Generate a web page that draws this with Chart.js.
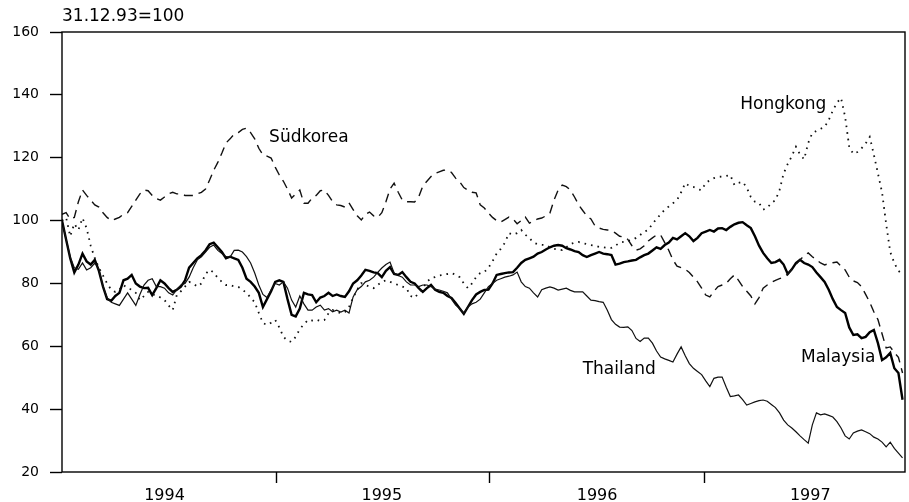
<!DOCTYPE html>
<html><head><meta charset="utf-8">
<script src="https://cdn.jsdelivr.net/npm/chart.js@4/dist/chart.umd.min.js"></script>
<style>html,body{margin:0;padding:0;background:#fff}#wrap{width:909px;height:502px}</style>
</head><body><div id="wrap"><canvas id="c" width="909" height="502"></canvas></div>
<script>
// Weekly index values, 31.12.93 = 100 (week 0 = 31.12.1993)
const malaysia = [
 100, 94, 88, 83.5, 86, 89.5, 87, 86, 87.5, 84,
 79, 75, 74.5, 76, 77, 81, 81.5, 82.7, 80, 79,
 78.5, 78.6, 76.3, 78.5, 81, 80, 78.5, 77.3, 78, 79,
 81, 85, 86.5, 88, 89, 90.5, 92.5, 93, 91.5, 90,
 88, 88.5, 88, 87.5, 85, 81.5, 80.5, 79, 77, 72.5,
 75, 77.5, 80.5, 81, 80.5, 75, 70, 69.5, 72, 77,
 76.5, 76.3, 74, 75.5, 76, 77, 76, 76.5, 76, 75.7,
 77.5, 80, 81, 82.5, 84.3, 84, 83.5, 83.3, 82, 84,
 85.2, 83, 82.7, 83.6, 82, 80.5, 80, 78.5, 77.3, 78.5,
 79.5, 78, 77.3, 77, 76, 75.4, 73.8, 72, 70.3, 72.5,
 74.7, 76.5, 77.3, 77.9, 78, 80, 82.7, 83, 83.3, 83.5,
 83.6, 85, 86.5, 87.5, 88, 88.5, 89.5, 90, 90.8, 91.5,
 92, 92.2, 92, 91.2, 90.8, 90.3, 90, 89, 88.4, 89,
 89.5, 90, 89.5, 89.3, 89, 86, 86.3, 86.8, 87, 87.3,
 87.5, 88.3, 89, 89.5, 90.5, 91.5, 91, 92.2, 93, 94.5,
 94, 95, 96, 95, 93.5, 94.5, 96, 96.5, 97, 96.5,
 97.5, 97.6, 97, 98, 98.8, 99.3, 99.5, 98.5, 97.6, 95,
 92, 89.7, 88, 86.5, 86.8, 87.5, 86, 83, 84.5, 86.5,
 87.5, 86.5, 86, 85.2, 83.5, 82, 80.5, 78, 75, 72.5,
 71.5, 70.6, 66, 63.6, 63.8, 62.6, 63, 64.5, 65.2, 61,
 55.6, 56.5, 57.9, 53, 51.5, 43
];
const thailand = [
 100, 94, 88.5, 85, 84.5, 86.5, 84.3, 85, 86.5, 84.5,
 79, 75.5, 74, 73.5, 73, 75, 77, 75, 73, 76.5,
 79.5, 81, 81.5, 79, 79, 78.5, 77, 76.3, 78, 79.5,
 80, 82, 85, 87.5, 88.5, 90, 91.5, 92.2, 90.5, 89.5,
 88.5, 88.4, 90.5, 90.6, 90, 88.5, 86.5, 83.3, 79.5, 76.5,
 75.5, 78, 80, 79.5, 80.5, 78.5, 74.7, 72.5, 76, 73.5,
 71.5, 71.5, 72.5, 73.1, 71.5, 72, 71, 71.5, 70.9, 71.5,
 70.6, 75.7, 78, 79, 80.5, 81, 82, 83.5, 84.9, 86,
 86.8, 83.3, 82.5, 82, 80.5, 79.5, 79.5, 79, 79.5, 79.5,
 79, 78.2, 77.9, 77.5, 77, 75, 73.1, 72, 70.6, 72.5,
 73.5, 74, 75, 77, 79, 80, 81, 81.5, 82, 82.3,
 82.7, 83.6, 80.5, 79, 78.5, 77, 75.7, 78, 78.5, 78.9,
 78.5, 77.9, 78.2, 78.5, 77.8, 77.3, 77.3, 77.3, 76, 74.7,
 74.5, 74.2, 74, 71.5, 68.5, 67, 66.1, 66, 66.2, 65,
 62.5, 61.5, 62.6, 62.6, 61, 58.5, 56.6, 56, 55.5, 55,
 57.5, 59.8, 57, 54.5, 53, 52, 51, 49, 47.2, 49.8,
 50.2, 50.2, 47, 44, 44.2, 44.5, 43, 41.3, 41.8, 42.3,
 42.7, 42.9, 42.5, 41.5, 40.5, 38.8, 36.5, 35, 34, 32.8,
 31.5, 30.3, 29.2, 35, 38.8, 38.2, 38.5, 38, 37.5, 36,
 34, 31.5, 30.5, 32.4, 33, 33.4, 32.8, 32.2, 31.1, 30.5,
 29.5, 28, 29.5, 27.5, 26, 24.5
];
const suedkorea = [
 102, 102.5, 100.5, 101, 106, 109.7, 108, 106.5, 105, 104.3,
 102.5, 101, 100, 100.5, 101, 102, 102.5, 104.5, 106.5, 108.5,
 109.7, 109.5, 108, 107, 106.5, 107.5, 108.5, 109, 108.5, 108.5,
 108, 108, 108, 108.5, 109, 110, 112.9, 116, 118.5, 121.5,
 124.7, 126, 127.5, 128, 129, 129.4, 128, 126, 123, 120.9,
 120.5, 119.9, 117, 114.5, 112.5, 110, 107.2, 108.5, 109.7, 105.5,
 105.5, 107.2, 108, 109.5, 109.7, 108, 106, 105, 104.8, 104.3,
 105.6, 103.5, 101.5, 100.2, 102, 102.7, 101.5, 101, 102.5, 106,
 110, 111.9, 109, 106.5, 106, 106, 105.9, 107.5, 111, 112.5,
 114, 115, 115.5, 116, 116.1, 115.3, 113.5, 112.3, 110.5, 109.7,
 109, 108.8, 105, 104, 102.4, 101, 100, 99.5, 100.3, 101.1,
 100.5, 99, 100, 101.1, 99.2, 99.8, 100.5, 100.8, 101.5, 102.4,
 106.5, 109.7, 111.3, 110.8, 109.7, 107.5, 105, 103.2, 101.5, 100.5,
 98.3, 97.6, 97.2, 97, 96.8, 96, 95, 94.8, 94, 92,
 90.6, 91, 92, 93.5, 94.5, 95.4, 95.4, 93, 90.5, 87.5,
 85.5, 85, 84.5, 83.5, 82, 80.5, 78.5, 76.3, 75.7, 77.5,
 79, 79.5, 80, 81.5, 82.7, 81, 79, 77.5, 76, 73.5,
 75.5, 78.5, 79.5, 80.3, 81, 81.5, 82, 83, 84.5, 86,
 87.5, 88.8, 89.7, 88.5, 87.5, 86.5, 85.9, 86.3, 86.6, 86.8,
 85.5, 84.3, 82, 80.8, 80.3, 79, 76.5, 74, 71, 68.5,
 64, 59.5, 59.8, 58, 56.5, 51.5
];
const hongkong = [
 100, 101, 95, 99, 97, 100.8, 97.6, 92, 88, 85,
 82.5, 80, 78, 77.3, 78, 79.5, 78.5, 78, 77, 74.7,
 76, 77.3, 76.5, 76.3, 75.5, 74.7, 73, 71.5, 76.3, 77.5,
 79, 80.5, 80, 79, 80, 83, 84.3, 83.5, 81.7, 80.5,
 79.5, 79.5, 79, 78.9, 78, 77, 75.5, 74, 70.6, 67.4,
 66.8, 67.5, 68.4, 66, 63, 61.8, 61.4, 63, 65.5, 67,
 68.4, 68.2, 68.5, 68, 68.4, 70.5, 71.5, 71, 70.5, 70.9,
 72.5, 75.5, 78, 80.1, 79.5, 79, 78.5, 79.5, 80.5, 81,
 80.5, 80, 79.5, 79, 78.5, 76, 75.4, 77, 78.5, 80.5,
 81.7, 82, 82.5, 82.7, 83, 83.3, 82.8, 82, 80, 78.5,
 80, 82, 83.3, 83.6, 85, 87, 89.5, 91, 92.9, 96,
 95.5, 96, 97, 95.5, 94.4, 93, 92.5, 92.3, 92.2, 91.5,
 91, 90.8, 90.6, 91.5, 92.5, 93, 93.2, 92.8, 92.5, 92.2,
 92, 91.6, 91.5, 91.3, 91.3, 92, 93, 93.2, 93.5, 93.8,
 94.5, 95.4, 96.5, 97, 99, 100.5, 102, 103.5, 104.5, 105.5,
 106.5, 109, 111.9, 111, 110.7, 110, 109.7, 112, 112.8, 113.5,
 113.9, 114, 114.2, 114.5, 111.3, 112, 112.3, 110.5, 107.5, 106,
 105.6, 103.5, 104, 105.6, 106.5, 109.7, 115, 118, 120.5, 123.5,
 121, 119.5, 124.7, 127.9, 128.5, 129.2, 129.8, 132, 135, 137.5,
 139, 133, 123.4, 121.2, 121.8, 123, 124.5, 126.6, 121, 115,
 109, 99, 90, 86.5, 84, 83
];
const yTicks = [20, 40, 60, 80, 100, 120, 140, 160];
const yearLabels = ['1994', '1995', '1996', '1997'];
const yearMidWeeks = [25, 78, 130.5, 182.5];      // where the year labels sit
const yearStartWeeks = [52.2, 104.2, 156.8];      // tick marks at 1.1.95, 1.1.96, 1.1.97
const unitLabel = '31.12.93=100';
const seriesNames = ['Südkorea', 'Hongkong', 'Thailand', 'Malaysia'];

const weeks = malaysia.map((_, i) => i);
const toXY = arr => arr.map((v, i) => ({x: weeks[i], y: v}));

const labelAnchors = [
  {text: seriesNames[0], week: 60.2, value: 126.3},
  {text: seriesNames[1], week: 175.9, value: 136.8},
  {text: seriesNames[2], week: 135.9, value: 52.5},
  {text: seriesNames[3], week: 189.3, value: 56.3}
];

const FONT = '"DejaVu Sans", "Liberation Sans", Arial, sans-serif';

const frameAndText = {
  id: 'frameAndText',
  afterDraw(chart) {
    const {ctx, chartArea: a, scales: {x, y}} = chart;
    ctx.save();
    ctx.strokeStyle = '#000';
    ctx.lineWidth = 1.4;
    ctx.strokeRect(a.left, a.top, a.right - a.left, a.bottom - a.top);
    ctx.fillStyle = '#000';
    ctx.font = '17px ' + FONT;
    ctx.textBaseline = 'middle';
    ctx.textAlign = 'left';
    ctx.fillText(unitLabel, a.left, a.top - 15);
    ctx.textAlign = 'center';
    labelAnchors.forEach(l => {
      ctx.fillText(l.text, x.getPixelForValue(l.week), y.getPixelForValue(l.value));
    });
    ctx.restore();
  }
};

const ticksAll = [...yearMidWeeks, ...yearStartWeeks].sort((p, q) => p - q);

new Chart(document.getElementById('c'), {
  type: 'line',
  data: {
    datasets: [
      {label: seriesNames[1], data: toXY(hongkong), borderColor: '#111', borderWidth: 1.8,
       borderDash: [1.6, 5], pointRadius: 0, tension: 0, fill: false},
      {label: seriesNames[0], data: toXY(suedkorea), borderColor: '#111', borderWidth: 1.4,
       borderDash: [9, 6], pointRadius: 0, tension: 0, fill: false},
      {label: seriesNames[2], data: toXY(thailand), borderColor: '#111', borderWidth: 1.2,
       pointRadius: 0, tension: 0, fill: false},
      {label: seriesNames[3], data: toXY(malaysia), borderColor: '#000', borderWidth: 2.4,
       pointRadius: 0, tension: 0, fill: false}
    ]
  },
  options: {
    responsive: false,
    animation: false,
    layout: {padding: {top: 32, right: 4, left: 0, bottom: 0}},
    plugins: {legend: {display: false}, tooltip: {enabled: false}, title: {display: false}},
    scales: {
      x: {
        type: 'linear', min: 0, max: 205.6,
        afterBuildTicks: s => { s.ticks = ticksAll.map(v => ({value: v})); },
        afterFit: s => { s.height = 30; },
        border: {display: false},
        grid: {drawOnChartArea: false, tickLength: 11, tickWidth: 1.4,
               tickColor: c => (c.tick && yearStartWeeks.includes(c.tick.value)) ? '#000' : 'rgba(0,0,0,0)'},
        ticks: {
          autoSkip: false, maxRotation: 0, padding: 3, color: '#000',
          font: {family: FONT, size: 16},
          callback: v => { const i = yearMidWeeks.indexOf(v); return i >= 0 ? yearLabels[i] : ''; }
        }
      },
      y: {
        type: 'linear', min: 20, max: 160,
        afterBuildTicks: s => { s.ticks = yTicks.map(v => ({value: v})); },
        afterFit: s => { s.width = 62; },
        border: {display: false},
        grid: {drawOnChartArea: false, tickLength: 12, tickWidth: 1.4, tickColor: '#000'},
        ticks: {padding: 11, color: '#000', font: {family: FONT, size: 14}}
      }
    }
  },
  plugins: [frameAndText]
});
</script>
</body></html>
